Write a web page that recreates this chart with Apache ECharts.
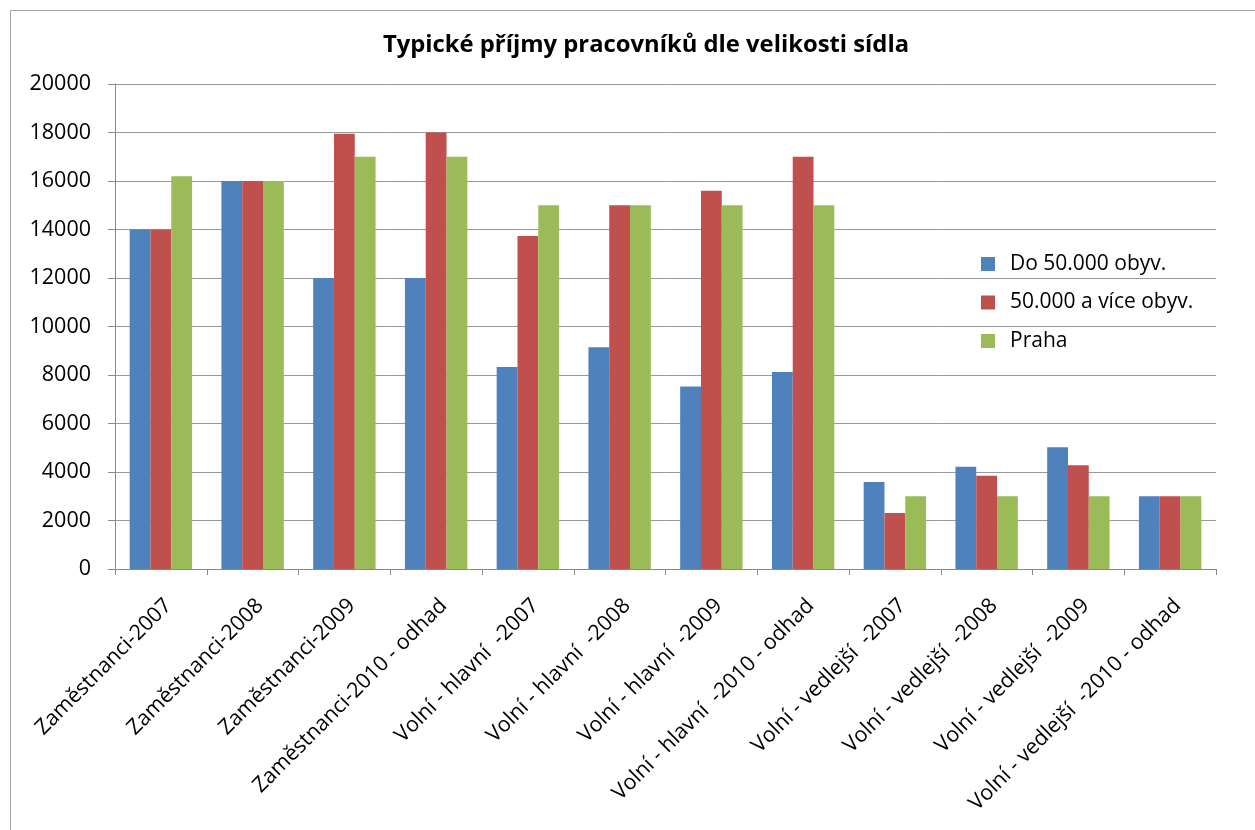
<!DOCTYPE html>
<html>
<head>
<meta charset="utf-8">
<script src="https://cdn.jsdelivr.net/npm/echarts@6/dist/echarts.min.js"></script>
<style>
html,body{margin:0;padding:0;background:#fff;}
#main{width:1255px;height:830px;}
</style>
</head>
<body>
<div id="main"></div>
<script>
const categories = [
  'Zaměstnanci-2007','Zaměstnanci-2008','Zaměstnanci-2009','Zaměstnanci-2010 - odhad',
  'Volní - hlavní  -2007','Volní - hlavní  -2008','Volní - hlavní  -2009','Volní - hlavní  -2010 - odhad',
  'Volní - vedlejší  -2007','Volní - vedlejší  -2008','Volní - vedlejší  -2009','Volní - vedlejší  -2010 - odhad'
];
const seriesNames = ['Do 50.000 obyv.','50.000 a více obyv.','Praha'];
const doPadesati = [14000,16000,12000,12000,8330,9140,7530,8120,3590,4220,5020,3000];
const nadPadesat = [14000,16000,17950,18000,13730,15000,15600,17000,2310,3850,4280,3000];
const praha      = [16200,16000,17000,17000,15000,15000,15000,15000,3000,3000,3000,3000];
const yTicks = [0,2000,4000,6000,8000,10000,12000,14000,16000,18000,20000];
const colors = ['#4F81BD','#C0504D','#9BBB59'];

const chart = echarts.init(document.getElementById('main'), null, {renderer:'canvas'});
const font = 'Open Sans, Liberation Sans, sans-serif';
chart.setOption({
  animation:false,
  backgroundColor:'#fff',
  graphic:[{type:'rect',shape:{x:10.5,y:10.5,width:1260,height:830},style:{fill:'none',stroke:'#a6a6a6',lineWidth:1},silent:true,z:-1}],
  title:{text:'Typické příjmy pracovníků dle velikosti sídla',left:641,textAlign:'center',top:28,
    textStyle:{fontFamily:font,fontWeight:'bold',fontSize:23.8,color:'#000'}},
  legend:{orient:'vertical',left:976,top:247,itemWidth:14,itemHeight:14,itemGap:14.5,icon:'rect',
    textStyle:{fontFamily:font,fontSize:21,lineHeight:24,color:'#000',padding:[0,0,0,10]},data:seriesNames},
  grid:{left:115,right:39,top:84,bottom:261,containLabel:false},
  xAxis:{type:'category',data:categories,boundaryGap:true,
    axisLine:{lineStyle:{color:'#888',width:1}},
    axisTick:{show:true,length:6,lineStyle:{color:'#888'}},
    axisLabel:{rotate:45,interval:0,margin:26,verticalAlign:'top',fontFamily:font,fontSize:21.3,color:'#000'}},
  yAxis:{type:'value',min:0,max:20000,interval:2000,
    axisLine:{show:true,lineStyle:{color:'#888'}},
    axisTick:{show:true,length:7,lineStyle:{color:'#888'}},
    splitLine:{lineStyle:{color:'#999',width:1}},
    axisLabel:{fontFamily:font,fontSize:21.5,color:'#000',margin:24,
      formatter:v=>yTicks.includes(v)?String(v):''}},
  series:[
    {name:seriesNames[0],type:'bar',data:doPadesati,itemStyle:{color:colors[0]},barGap:'0%',barCategoryGap:'32%'},
    {name:seriesNames[1],type:'bar',data:nadPadesat,itemStyle:{color:colors[1]},barGap:'0%',barCategoryGap:'32%'},
    {name:seriesNames[2],type:'bar',data:praha,itemStyle:{color:colors[2]},barGap:'0%',barCategoryGap:'32%'}
  ]
});
</script>
</body>
</html>
